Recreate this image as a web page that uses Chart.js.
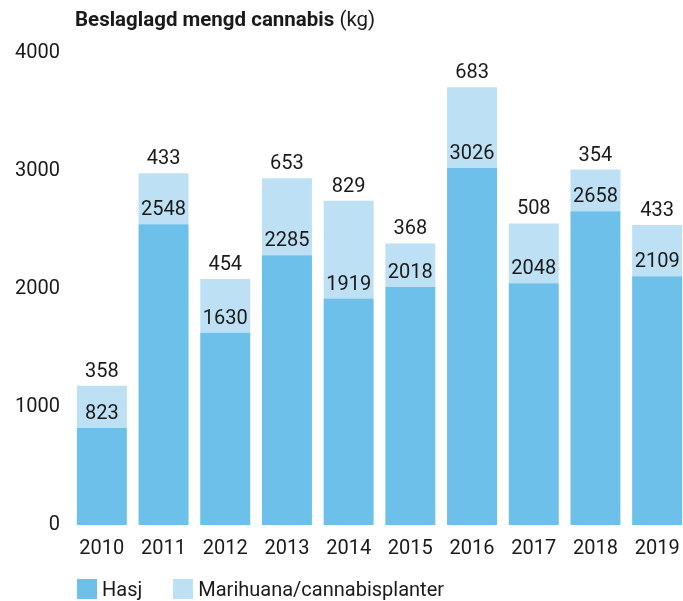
<!DOCTYPE html>
<html>
<head>
<meta charset="utf-8">
<script src="https://cdn.jsdelivr.net/npm/chart.js@4/dist/chart.umd.min.js"></script>
<style>
  html, body { margin: 0; padding: 0; background: #fff; overflow: hidden; }
  body { width: 683px; height: 601px; position: relative; font-family: Roboto, sans-serif; color: #1a1a1a; }
  #wrap { position: absolute; left: 0; top: 0; width: 700px; height: 601px; }
  .title { position: absolute; left: 75px; top: 7px; font-size: 20.5px; white-space: nowrap; }
  .title b { font-weight: 700; }
  .legend { position: absolute; top: 579px; left: 77px; font-size: 20px; display: flex; align-items: center; }
  .legend span.box { display: inline-block; width: 20px; height: 20px; margin-right: 5px; }
  .legend span.item { display: flex; align-items: center; margin-right: 31px; line-height: 20px; }
</style>
</head>
<body>
<div id="wrap"><canvas id="chart" width="700" height="601"></canvas></div>
<div class="title"><b>Beslaglagd mengd cannabis</b> (kg)</div>
<div class="legend">
  <span class="item"><span class="box" style="background:#6cc0ea"></span>Hasj</span>
  <span class="item"><span class="box" style="background:#bde0f4"></span>Marihuana/cannabisplanter</span>
</div>
<script>
const years = ['2010', '2011', '2012', '2013', '2014', '2015', '2016', '2017', '2018', '2019'];
const hasj = [823, 2548, 1630, 2285, 1919, 2018, 3026, 2048, 2658, 2109];
const marihuana = [358, 433, 454, 653, 829, 368, 683, 508, 354, 433];
const yTicks = [0, 1000, 2000, 3000, 4000];

// value labels sit just above the top of each segment
const valueLabels = {
  id: 'valueLabels',
  afterDatasetsDraw(chart) {
    const ctx = chart.ctx;
    ctx.save();
    ctx.font = '20px Roboto, sans-serif';
    ctx.fillStyle = '#1a1a1a';
    ctx.textAlign = 'center';
    ctx.textBaseline = 'middle';
    chart.data.datasets.forEach((ds, di) => {
      chart.getDatasetMeta(di).data.forEach((bar, i) => {
        ctx.fillText(String(ds.data[i]), bar.x, bar.y - 14);
      });
    });
    ctx.restore();
  }
};

new Chart(document.getElementById('chart').getContext('2d'), {
  type: 'bar',
  data: {
    labels: years,
    datasets: [
      { label: 'Hasj', data: hasj, backgroundColor: '#6cc0ea' },
      { label: 'Marihuana/cannabisplanter', data: marihuana, backgroundColor: '#bde0f4' }
    ]
  },
  options: {
    responsive: false,
    animation: false,
    layout: { padding: { top: 53, right: 12, bottom: 36, left: 0 } },
    datasets: { bar: { barPercentage: 0.81, categoryPercentage: 1 } },
    plugins: {
      legend: { display: false },
      tooltip: { enabled: false }
    },
    scales: {
      x: {
        stacked: true,
        grid: { display: false, drawTicks: false },
        border: { display: false },
        ticks: { color: '#1a1a1a', font: { family: 'Roboto', size: 20 }, padding: 12 },
        afterFit(s) { s.height = 40; }
      },
      y: {
        stacked: true,
        min: 0,
        max: 4000,
        grid: { display: false, drawTicks: false },
        border: { display: false },
        afterBuildTicks(s) { s.ticks = yTicks.map(v => ({ value: v })); },
        ticks: {
          color: '#1a1a1a',
          font: { family: 'Roboto', size: 20 },
          padding: 11,
          callback: v => String(v)
        },
        afterFit(s) { s.width = 71; }
      }
    }
  },
  plugins: [valueLabels]
});
</script>
</body>
</html>
